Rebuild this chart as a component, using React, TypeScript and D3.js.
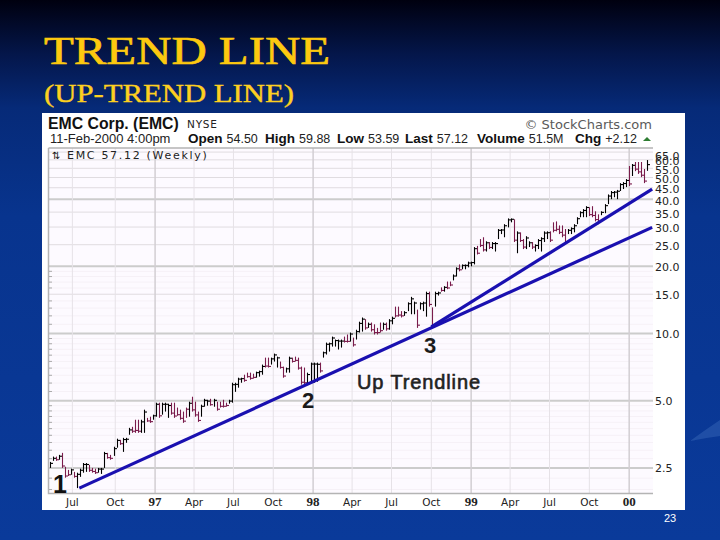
import React from "react";
import * as d3 from "d3";

const highs = [
  2.66,2.81,2.81,2.86,2.92,2.53,2.45,2.48,2.40,2.38,
  2.48,2.63,2.63,2.58,2.50,2.48,2.50,2.50,2.95,2.92,
  2.86,3.11,3.38,3.34,3.41,3.41,3.78,3.82,4.11,4.11,
  4.11,4.56,4.19,4.24,4.33,4.90,4.90,4.90,4.90,4.85,
  4.90,4.90,4.66,4.56,4.47,4.66,4.95,5.21,4.95,4.47,
  4.80,5.10,5.05,5.10,5.10,4.95,4.95,5.05,4.90,5.05,
  6.02,6.02,6.34,6.34,6.54,6.68,6.68,6.61,6.75,6.82,
  7.26,7.80,7.80,7.80,8.13,7.88,7.49,7.11,7.04,7.88,
  7.80,7.88,7.80,7.11,7.04,6.68,7.41,7.41,7.41,7.41,
  8.30,9.11,9.11,9.69,9.40,9.40,9.40,9.69,9.90,10.1,
  9.59,10.4,11.3,11.8,11.6,11.2,11.2,11.0,10.6,11.2,
  11.2,11.2,11.6,11.9,13.2,13.2,12.6,12.6,13.8,14.6,
  13.9,12.8,13.8,13.9,15.4,15.4,13.1,15.4,15.4,16.1,
  16.3,17.1,17.1,18.4,19.8,20.4,20.4,20.4,21.0,21.0,
  24.4,24.7,26.5,27.0,25.9,25.7,25.7,25.7,29.4,29.4,
  30.9,32.8,32.8,32.5,28.7,28.4,26.5,27.3,25.9,25.7,
  25.1,26.5,27.0,28.7,28.7,28.7,31.5,31.8,30.5,30.5,
  29.4,29.4,29.9,30.9,33.2,35.3,36.1,37.2,36.8,37.2,
  35.3,34.2,35.3,38.0,42.0,43.5,43.5,44.0,47.2,47.7,
  49.2,56.3,57.5,58.7,58.7,58.7,54.6,59.88,
];
const lows = [
  2.50,2.69,2.69,2.72,2.50,2.26,2.30,2.33,2.26,2.03,
  2.28,2.38,2.40,2.40,2.38,2.35,2.38,2.35,2.50,2.75,
  2.72,2.83,3.08,3.17,2.95,3.24,3.52,3.59,3.59,3.59,
  3.59,3.59,4.02,3.98,4.11,4.24,4.19,4.33,4.47,4.19,
  4.33,4.19,4.28,4.11,3.98,4.19,4.24,4.47,4.24,4.02,
  4.24,4.70,4.75,4.75,4.70,4.51,4.66,4.66,4.70,4.85,
  4.90,5.48,5.72,6.02,6.08,6.34,6.21,6.28,6.34,6.41,
  6.54,7.04,7.04,7.26,7.49,7.04,6.96,6.34,6.68,6.68,
  7.41,7.49,6.89,5.90,5.90,5.90,6.02,6.02,6.08,6.68,
  7.80,8.05,8.30,8.74,8.74,8.48,8.65,9.11,9.11,9.20,
  8.74,9.40,10.1,10.2,10.4,10.6,10.2,9.90,9.90,10.1,
  10.4,10.3,10.4,11.0,11.8,11.9,11.8,12.0,12.6,12.2,
  12.2,10.6,12.8,12.6,11.9,13.2,10.6,13.2,14.8,15.4,
  15.4,15.8,16.3,17.3,18.0,19.0,19.4,19.4,19.8,20.0,
  20.4,22.6,24.4,23.3,23.3,23.9,23.9,23.3,26.5,27.9,
  27.0,29.9,31.5,25.7,22.9,25.7,23.9,23.9,24.4,23.9,
  23.3,23.9,23.3,25.7,26.5,25.7,28.4,28.7,27.9,27.0,
  25.1,27.9,27.9,28.4,30.9,33.2,33.2,33.2,33.6,33.2,
  31.8,30.9,33.9,34.6,38.0,40.0,40.8,40.0,43.5,44.4,
  45.3,45.8,50.8,53.4,51.9,50.2,47.2,53.59,
];
const closes = [
  2.62,2.76,2.72,2.82,2.55,2.30,2.33,2.45,2.29,2.34,
  2.44,2.59,2.59,2.44,2.41,2.38,2.47,2.47,2.90,2.78,
  2.76,3.05,3.32,3.21,3.35,3.36,3.70,3.65,3.68,3.65,
  4.02,4.45,4.06,4.03,4.28,4.82,4.28,4.82,4.82,4.76,
  4.40,4.27,4.33,4.17,4.05,4.58,4.87,4.55,4.32,4.08,
  4.72,5.02,4.98,4.80,5.02,4.58,4.72,4.72,4.76,4.98,
  5.90,5.92,6.25,6.28,6.17,6.41,6.30,6.36,6.68,6.75,
  7.12,7.15,7.12,7.70,8.02,7.78,7.05,6.45,6.95,7.75,
  7.50,7.58,7.00,6.05,6.02,6.55,7.30,7.30,7.28,6.80,
  8.20,8.95,9.00,9.55,9.30,9.25,9.25,9.22,9.22,9.95,
  8.90,10.2,11.1,11.6,10.6,11.0,10.4,10.1,10.1,10.3,
  11.0,10.5,11.4,11.7,12.0,12.1,12.0,12.4,13.6,14.3,
  13.7,10.9,13.6,13.7,15.1,13.5,10.9,15.1,15.2,15.6,
  16.1,16.0,16.5,18.1,19.5,19.3,20.2,20.2,20.7,20.8,
  24.0,22.9,24.8,23.7,25.5,24.3,25.3,25.3,29.0,29.1,
  30.4,32.3,32.5,26.2,28.2,26.1,24.4,26.8,25.5,24.4,
  24.8,26.1,26.6,28.2,28.3,26.2,29.0,29.3,28.4,27.6,
  25.6,29.0,29.5,30.4,32.7,34.8,35.6,36.7,34.1,33.8,
  32.4,31.5,34.9,37.4,41.3,42.8,43.0,43.4,46.5,47.0,
  48.5,46.8,56.7,54.5,53.0,51.2,48.2,57.12,
];
// b = up week, m = down week
const weekTone = [
  "bbmbmmmbmb","bbbmmmbbbm","mbbmbbbmmm","bbmmbbmbbb","mmmmmmbmmm",
  "bbbmbmmmmb","bbbbmmmmbb","bmmbbbmmbb","mmmmmbbbbm","bbbbbbbmmb",
  "mbbbmbmmmm","bmbbmmmbbb","bmbbbmmbbm","bmmbbmbbbb","bmmmbmbbbb",
  "bbbmbmmbbm","bbbbbmmmmm","mbbbbbbbmm","mmbbbbbbbb","bmbmmmmb",
].join("");

const firstWeek = new Date(1996, 4, 3);
const lastDay = new Date(2000, 1, 25);
const seriesStart = new Date(1996, 4, 1);

const timeTickDates = [
  new Date(1996, 5, 24), new Date(1996, 9, 1), new Date(1997, 0, 1), new Date(1997, 3, 1),
  new Date(1997, 6, 1), new Date(1997, 9, 1), new Date(1998, 0, 1), new Date(1998, 3, 1),
  new Date(1998, 6, 1), new Date(1998, 9, 1), new Date(1999, 0, 1), new Date(1999, 3, 1),
  new Date(1999, 6, 1), new Date(1999, 9, 1), new Date(2000, 0, 1),
];
const timeTickLabels = ["Jul","Oct","97","Apr","Jul","Oct","98","Apr","Jul","Oct","99","Apr","Jul","Oct","00"];

const priceLabels = [65, 60, 55, 50, 45, 40, 35, 30, 25, 20, 15, 10, 5, 2.5];
const labelNudge = [4, 1, 2, 1, 1, 2, 2, 1, 1, 1, 1, 0, 0, 0];
const majorPrices = [40, 20, 10, 5, 2.5];
const faintPrices = [2, 2.25, 2.75, 3, 3.25, 3.5, 3.75, 4, 4.25, 4.5, 4.75, 5.5, 6, 6.5, 7, 7.5, 8, 8.5, 9, 9.5, 11, 12, 13, 14, 16, 17, 18, 19];

const trendOne = [
  { date: new Date(1996, 6, 10), price: 2.03 },
  { date: new Date(2000, 1, 23), price: 29.9 },
];
const trendTwo = [
  { date: new Date(1998, 9, 1), price: 10.7 },
  { date: new Date(2000, 1, 23), price: 44.4 },
];

const quote = [
  ["Open", "54.50"], ["High", "59.88"], ["Low", "53.59"], ["Last", "57.12"], ["Volume", "51.5M"], ["Chg", "+2.12"],
];
const quoteX = [188, 265, 337, 405, 477, 575];

const SANS = "'Liberation Sans', Arial, sans-serif";
const SERIF = "'Liberation Serif', 'Times New Roman', serif";
const DEJA = "'DejaVu Sans', sans-serif";

export default function App() {
  const x = d3.scaleTime().domain([seriesStart, lastDay]).range([49, 653]);
  const y = d3.scaleLog().domain([1.93, 67.8]).range([493, 148]);
  const toLine = d3
    .line<{ date: Date; price: number }>()
    .x((d) => x(d.date))
    .y((d) => y(d.price));
  const bars = highs.map((h, i) => ({
    date: d3.timeDay.offset(firstWeek, i * 7),
    h,
    l: lows[i],
    c: closes[i],
    tone: weekTone[i],
  }));

  return (
    <svg
      width={720}
      height={540}
      viewBox="0 0 720 540"
      style={{ position: "absolute", left: 0, top: 0, display: "block" }}
    >
      <defs>
        <linearGradient id="bg" x1="0" y1="0" x2="0" y2="1">
          <stop offset="0" stopColor="#00000f" />
          <stop offset="0.1" stopColor="#04164a" />
          <stop offset="0.2" stopColor="#062a78" />
          <stop offset="0.4" stopColor="#08348e" />
          <stop offset="1" stopColor="#0a3a9a" />
        </linearGradient>
      </defs>
      <rect width={720} height={540} fill="url(#bg)" />
      <path d="M690 441 Q705 430 720 420 L720 436 Q705 438 690 441 Z" fill="#2a58ad" opacity={0.7} />

      <text x={44} y={64} fontFamily={SERIF} fontSize={41} textLength={286} lengthAdjust="spacingAndGlyphs" stroke="#fdc90f" strokeWidth={0.7} fill="#fdc90f">
        TREND LINE
      </text>
      <text x={44} y={102} fontFamily={SERIF} fontSize={26} textLength={250} lengthAdjust="spacingAndGlyphs" stroke="#fdd020" strokeWidth={0.4} fill="#fdd020">
        (UP-TREND LINE)
      </text>
      <text x={670} y={522} fontFamily={SANS} fontSize={11} fill="#ffffff" textAnchor="middle">
        23
      </text>

      <rect x={42} y={113} width={643} height={397} fill="#ffffff" />
      <rect x={48} y={148} width={605} height={345} fill="#fdfaff" />

      {faintPrices.map((p) => (
        <line key={p} x1={49} x2={653} y1={y(p)} y2={y(p)} stroke="#f6f1f7" strokeWidth={1} />
      ))}
      {priceLabels.map((p) => (
        <line
          key={p}
          x1={48}
          x2={653}
          y1={y(p)}
          y2={y(p)}
          stroke={majorPrices.includes(p) ? "#cccccc" : "#e0dce0"}
          strokeWidth={majorPrices.includes(p) ? 2 : 1}
        />
      ))}
      {timeTickDates.map((d, i) => {
        const isYear = /\d/.test(timeTickLabels[i]);
        return (
          <line
            key={i}
            x1={x(d)}
            x2={x(d)}
            y1={148}
            y2={493}
            stroke={isYear ? "#d2ced3" : "#e6e2e7"}
            strokeWidth={isYear ? 1.5 : 1}
          />
        );
      })}
      <path d="M48.5 148 L653 148 M48.5 148 L48.5 493.5 L653 493.5" fill="none" stroke="#b4b4b4" strokeWidth={1.5} />
      {faintPrices.map((p) => (
        <line key={p} x1={49} x2={52} y1={y(p)} y2={y(p)} stroke="#aaaaaa" strokeWidth={1} />
      ))}

      {bars.map((b, i) => {
        const color = b.tone === "b" ? "#000000" : "#7a1c4c";
        const bx = Math.round(x(b.date)) + 0.5;
        return (
          <g key={i} stroke={color} strokeWidth={1.1}>
            <line x1={bx} x2={bx} y1={y(b.h)} y2={y(b.l)} />
            <line x1={bx} x2={bx + 2.5} y1={y(b.c)} y2={y(b.c)} />
          </g>
        );
      })}

      <path d={toLine(trendOne) ?? ""} fill="none" stroke="#1a10b0" strokeWidth={3.2} />
      <path d={toLine(trendTwo) ?? ""} fill="none" stroke="#1a10b0" strokeWidth={3.2} />

      {priceLabels.map((p, i) => (
        <text
          key={p}
          x={655}
          y={y(p) + 4 + labelNudge[i]}
          fontFamily={DEJA}
          fontSize={11}
          fill="#222222"
        >
          {p.toFixed(1)}
        </text>
      ))}
      {timeTickDates.map((d, i) => {
        const isYear = /\d/.test(timeTickLabels[i]);
        return (
          <text
            key={i}
            x={x(d)}
            y={506}
            textAnchor="middle"
            fontFamily={isYear ? SERIF : DEJA}
            fontWeight={isYear ? 700 : 400}
            fontSize={isYear ? 13 : 10.5}
            fill="#222222"
          >
            {timeTickLabels[i]}
          </text>
        );
      })}

      <text x={48} y={129} fontFamily={SANS} fontWeight={700} fontSize={15.8} fill="#111111">
        EMC Corp. (EMC)
      </text>
      <text x={187} y={128} fontFamily={DEJA} fontSize={10.5} letterSpacing={0.8} fill="#222222">
        NYSE
      </text>
      <text x={50} y={143} fontFamily={SANS} fontSize={13} fill="#222222">
        11-Feb-2000 4:00pm
      </text>
      {quote.map(([k, v], i) => (
        <text key={k} x={quoteX[i]} y={143} fontFamily={SANS} fontSize={12.5} fill="#222222">
          <tspan fontWeight={700} fontSize={13.5} fill="#111111">{k}</tspan>
          <tspan dx={4}>{v}</tspan>
        </text>
      ))}
      <path d="M643 141 L647 137 L651 141 Z" fill="#2e7d32" />
      <text x={652} y={129} textAnchor="end" fontFamily={DEJA} fontSize={13} fill="#5a5a5a">
        © StockCharts.com
      </text>
      <text x={52} y={159} fontFamily={DEJA} fontSize={10} fill="#111111">
        ⇅
      </text>
      <text x={67} y={159} fontFamily={DEJA} fontSize={11} letterSpacing={1.7} fill="#222222">
        EMC 57.12 (Weekly)
      </text>

      <text x={53} y={493} fontFamily={SANS} fontWeight={700} fontSize={25} fill="#111111">1</text>
      <text x={302} y={408} fontFamily={SANS} fontWeight={700} fontSize={22} fill="#1a1a1a">2</text>
      <text x={424} y={353} fontFamily={SANS} fontWeight={700} fontSize={22} fill="#1a1a1a">3</text>
      <text x={357} y={389} fontFamily={SANS} fontSize={20} textLength={123} lengthAdjust="spacing" stroke="#222222" strokeWidth={0.6} fill="#222222">
        Up Trendline
      </text>
    </svg>
  );
}
